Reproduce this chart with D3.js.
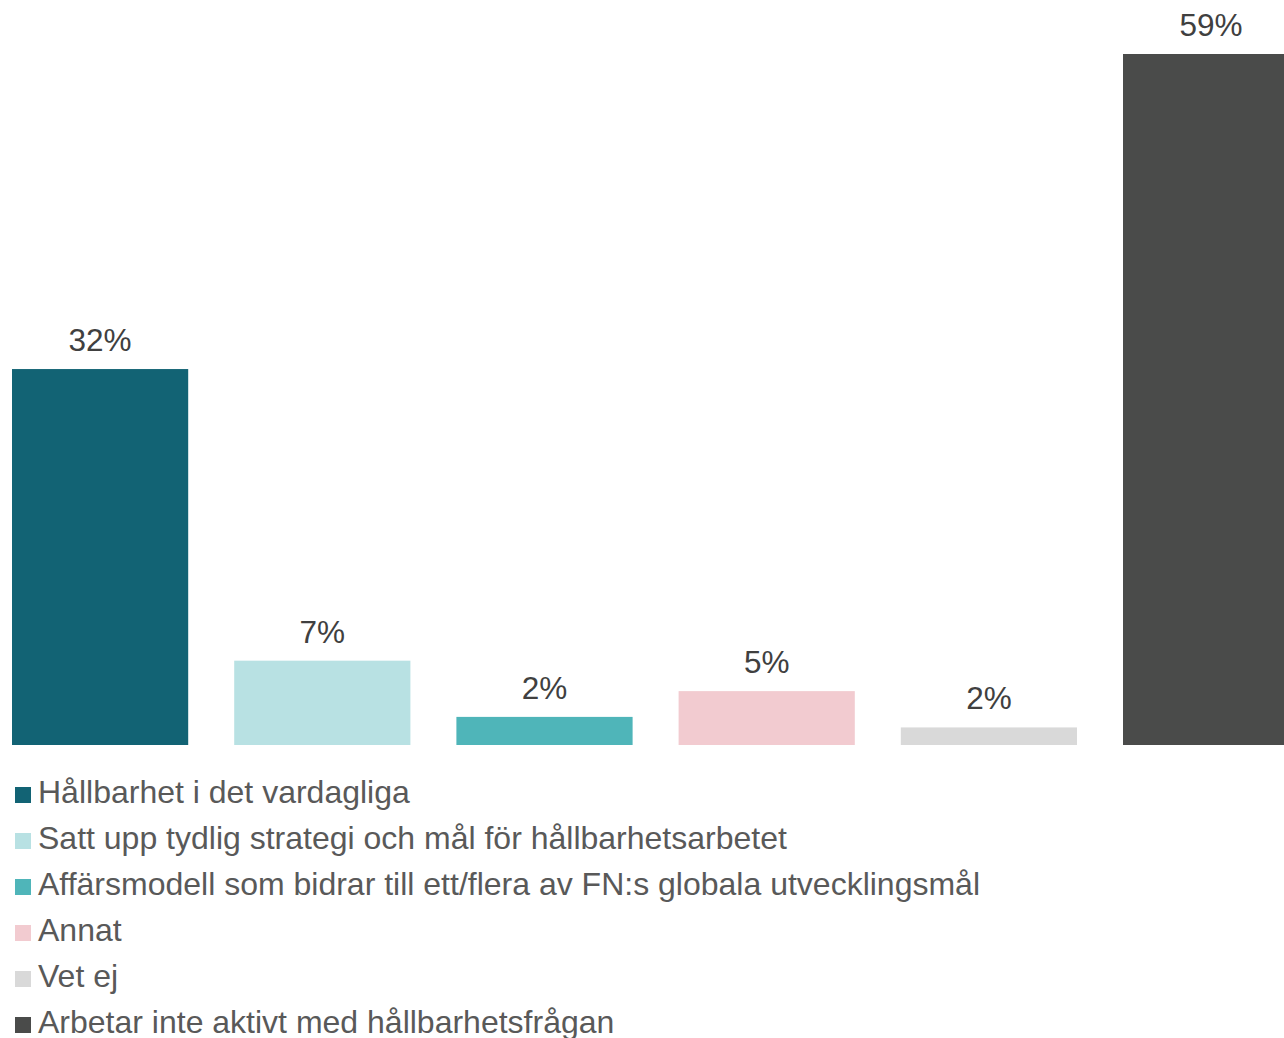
<!DOCTYPE html>
<html>
<head>
<meta charset="utf-8">
<script src="https://cdn.jsdelivr.net/npm/d3@7"></script>
<style>
  body { margin: 0; background: #ffffff; overflow: hidden; }
</style>
</head>
<body>
<div id="viz"></div>
<script>
// data
const categories = [
  "Hållbarhet i det vardagliga",
  "Satt upp tydlig strategi och mål för hållbarhetsarbetet",
  "Affärsmodell som bidrar till ett/flera av FN:s globala utvecklingsmål",
  "Annat",
  "Vet ej",
  "Arbetar inte aktivt med hållbarhetsfrågan"
]
const values = [32.1, 7.2, 2.4, 4.6, 1.5, 59]
const colors = ["#126374", "#b8e1e3", "#4fb5b9", "#f2cbd0", "#d9d9d9", "#4a4b4a"]

document.addEventListener("DOMContentLoaded", () => {

  const width = 1284
  const height = 1038

  const svg = d3.select("#viz").append("svg")
    .attr("width", width)
    .attr("height", height)
    .style("display", "block")

  const baseline = 745
  const step = 222.2
  const inner = 46 / step

  const x = d3.scaleBand()
    .domain(categories)
    .range([12 - 23, 12 - 23 + step * categories.length])
    .paddingInner(inner)
    .paddingOuter(inner / 2)

  const y = d3.scaleLinear()
    .domain([0, 59])
    .range([baseline, 54])

  svg.selectAll("rect.bar")
    .data(categories)
    .enter()
    .append("rect")
    .attr("class", "bar")
    .attr("x", d => x(d))
    .attr("y", (d, i) => y(values[i]))
    .attr("width", x.bandwidth())
    .attr("height", (d, i) => baseline - y(values[i]))
    .attr("fill", (d, i) => colors[i])

  svg.selectAll("text.label")
    .data(categories)
    .enter()
    .append("text")
    .attr("class", "label")
    .attr("x", d => x(d) + x.bandwidth() / 2)
    .attr("y", (d, i) => y(values[i]) - 18)
    .attr("text-anchor", "middle")
    .attr("font-family", "Liberation Sans, Arial, sans-serif")
    .attr("font-size", 31.5)
    .attr("fill", "#404040")
    .text((d, i) => Math.round(values[i]) + "%")

  // legend
  const legend = svg.selectAll("g.legend")
    .data(categories)
    .enter()
    .append("g")
    .attr("class", "legend")
    .attr("transform", (d, i) => `translate(0, ${803 + i * 46})`)

  legend.append("rect")
    .attr("x", 15)
    .attr("y", -16)
    .attr("width", 16)
    .attr("height", 16)
    .attr("fill", (d, i) => colors[i])

  legend.append("text")
    .attr("x", 38)
    .attr("y", 0)
    .attr("font-family", "Liberation Sans, Arial, sans-serif")
    .attr("font-size", 32)
    .attr("fill", "#595959")
    .text(d => d)
})
</script>
</body>
</html>
